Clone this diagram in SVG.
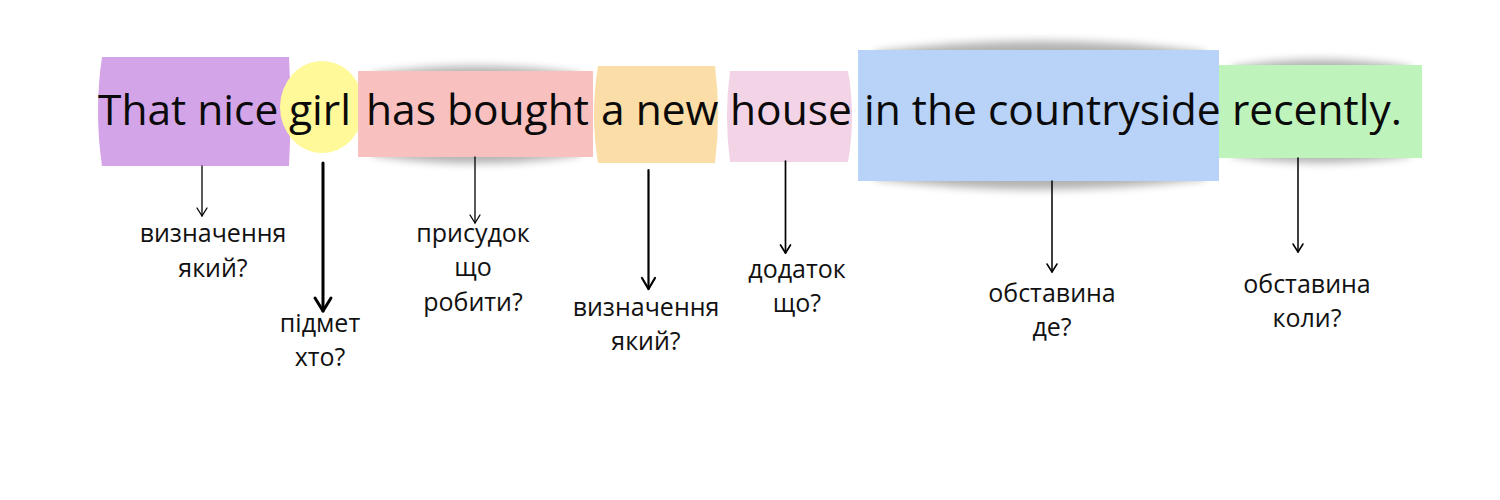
<svg xmlns="http://www.w3.org/2000/svg" width="1500" height="500" viewBox="0 0 1500 500">
<defs>
<filter id="sh" x="-20%" y="-50%" width="140%" height="200%"><feGaussianBlur stdDeviation="4"/></filter>
<style>
.w{font-family:"Open Sans","Noto Sans","DejaVu Sans",sans-serif;font-size:42.5px;fill:#0a0a0a}
.l{font-family:"Open Sans","Noto Sans","DejaVu Sans",sans-serif;font-size:25px;fill:#111;text-anchor:middle}
.shadow{fill:#000;opacity:0.3;filter:url(#sh)}
.ln{stroke:#000;fill:none;stroke-linecap:round;stroke-linejoin:round}
</style>
</defs>
<rect width="1500" height="500" fill="#fff"/>
<g id="shadows">
<path class="shadow" d="M372,74 Q475,58 580,74 L580,155 Q475,172 372,155 Z"/>
<path class="shadow" d="M875,52 Q1040,30 1205,52 L1205,179 Q1040,200 875,179 Z"/>
<path class="shadow" d="M1232,67 Q1320,52 1410,67 L1410,156 Q1320,170 1232,156 Z"/>
</g>
<g id="n1">
<path d="M102,57 L289,57 Q292,111 289,166 L102,166 Q94,111 102,57 Z" fill="#D3A4E8"/>
<text class="w" x="98" y="125">That nice</text>
</g>
<g id="n2">
<ellipse cx="322" cy="107" rx="42" ry="46" fill="#FFF99A"/>
<text class="w" x="289" y="125">girl</text>
</g>
<g id="n3">
<rect x="358" y="71" width="235" height="86" fill="#F9C0C0"/>
<text class="w" x="366" y="125">has bought</text>
</g>
<g id="n4">
<path d="M598,66 L715,66 Q721,114 715,163 L598,163 Q590,114 598,66 Z" fill="#FBDDA8"/>
<text class="w" x="601" y="125">a new</text>
</g>
<g id="n5">
<path d="M730,71 L848,71 Q856,116 848,162 L730,162 Q724,116 730,71 Z" fill="#F3D3E6"/>
<text class="w" x="730" y="125">house</text>
</g>
<g id="n7">
<rect x="1219" y="65" width="203" height="93" fill="#BEF4BB"/>
<text class="w" x="1232" y="125">recently.</text>
</g>
<g id="n6">
<rect x="858" y="50" width="361" height="131" fill="#B8D2F8"/>
<text class="w" x="864" y="125">in the countryside</text>
</g>
<g id="connectors">
<line class="ln" x1="202" y1="166" x2="202" y2="216" stroke-width="1.3"/>
<polyline class="ln" points="197,208 202,216 207,208" stroke-width="1.3"/>
<line class="ln" x1="323" y1="163" x2="323" y2="311" stroke-width="3"/>
<polyline class="ln" points="315,298 323,311 331,298" stroke-width="3"/>
<line class="ln" x1="475" y1="157" x2="475" y2="223" stroke-width="1.3"/>
<polyline class="ln" points="470,215 475,223 480,215" stroke-width="1.3"/>
<line class="ln" x1="648.5" y1="170" x2="648.5" y2="289" stroke-width="2.2"/>
<polyline class="ln" points="642,278 648.5,289 655,278" stroke-width="2.2"/>
<line class="ln" x1="785.5" y1="161" x2="785.5" y2="253" stroke-width="1.7"/>
<polyline class="ln" points="780.5,245 785.5,253 790.5,245" stroke-width="1.7"/>
<line class="ln" x1="1052" y1="181" x2="1052" y2="272" stroke-width="1.5"/>
<polyline class="ln" points="1047,264 1052,272 1057,264" stroke-width="1.5"/>
<line class="ln" x1="1298" y1="158" x2="1298" y2="252" stroke-width="1.5"/>
<polyline class="ln" points="1293,244 1298,252 1303,244" stroke-width="1.5"/>
</g>
<g id="labels">
<text class="l" x="213" y="242">визначення</text>
<text class="l" x="213" y="277">який?</text>
<text class="l" x="320" y="332">підмет</text>
<text class="l" x="320" y="366">хто?</text>
<text class="l" x="473" y="242">присудок</text>
<text class="l" x="473" y="276">що</text>
<text class="l" x="473" y="311">робити?</text>
<text class="l" x="646" y="316">визначення</text>
<text class="l" x="646" y="350">який?</text>
<text class="l" x="797" y="278">додаток</text>
<text class="l" x="797" y="312">що?</text>
<text class="l" x="1052" y="302">обставина</text>
<text class="l" x="1052" y="336">де?</text>
<text class="l" x="1307" y="293">обставина</text>
<text class="l" x="1307" y="327">коли?</text>
</g>
</svg>
